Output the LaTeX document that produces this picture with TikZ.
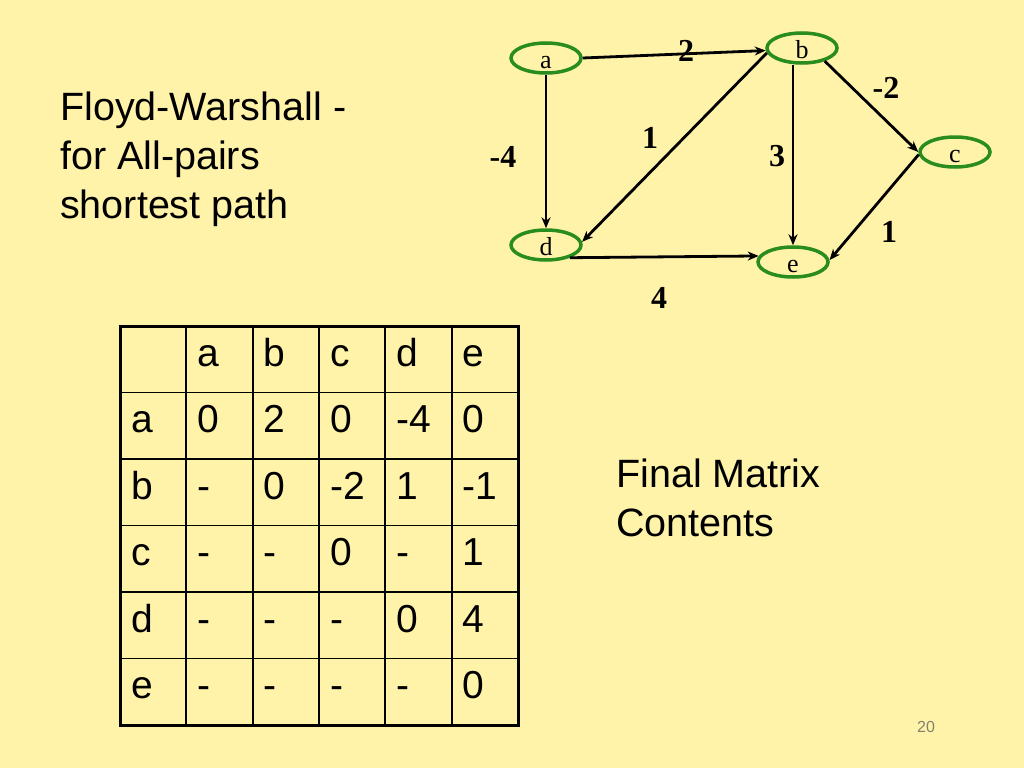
\documentclass[tikz,border=0pt]{standalone}
\usepackage{fontspec}
\setmainfont{Liberation Sans}
\newfontfamily\serifgraph{Liberation Serif}
\usetikzlibrary{shapes.geometric,arrows.meta}
\definecolor{bg}{RGB}{255,243,170}
\definecolor{ngreen}{RGB}{40,140,30}
\definecolor{pgnum}{RGB}{130,130,110}
\begin{document}
\begin{tikzpicture}[x=1pt,y=-1pt,
  vert/.style={ellipse, draw=ngreen, line width=3.5pt, minimum width=70pt, minimum height=30pt,
    inner sep=0pt, text height=21pt, text depth=0pt, font=\serifgraph\fontsize{26}{26}\selectfont},
  wlabel/.style={inner sep=0pt, font=\serifgraph\bfseries\fontsize{32}{32}\selectfont},
  edgearrow/.style={line width=2.8pt, -{Stealth[length=11pt,width=9pt]}},
  bigtext/.style={font=\fontsize{39.5}{49}\selectfont, anchor=north west, inner sep=0pt, align=left},
  cell/.style={font=\fontsize{39}{39}\selectfont, anchor=base west, inner sep=0pt},
]
\fill[bg] (0,0) rectangle (1024,768);
\useasboundingbox (0,0) rectangle (1024,768);

% title
\node[bigtext] (title) at (60,92) {Floyd-Warshall -\\for All-pairs\\shortest path};

% graph
\node[vert] (a) at (546,58) {a};
\node[vert] (b) at (802,48) {b};
\node[vert] (c) at (955,152) {c};
\node[vert] (d) at (546,245) {d};
\node[vert] (e) at (793,262) {e};

\draw[edgearrow] (a.east) -- (b.184);
\draw[edgearrow] (b.188) -- (d.5);
\draw[edgearrow] (a.south) -- (d.north);
\draw[edgearrow] (b.south -| e.north) -- (e.north);
\draw[edgearrow] (b.-30) -- (c.west);
\draw[edgearrow] (c.184) -- (e.3);
\draw[edgearrow] (d.-28) -- (e.170);

\node[wlabel] (wab) at (686,51) {2};
\node[wlabel] (wbc) at (886,88) {-2};
\node[wlabel] (wbd) at (650,138) {1};
\node[wlabel] (wad) at (503,157) {-4};
\node[wlabel] (wbe) at (777,156) {3};
\node[wlabel] (wce) at (889,232) {1};
\node[wlabel] (wde) at (659,298) {4};

% table
\foreach \i in {1,...,5} {
  \draw[line width=1.8pt] (120+66.33*\i,326) -- (120+66.33*\i,725);
  \draw[line width=1.8pt] (120,326+66.5*\i) -- (518,326+66.5*\i);
}
\draw[line width=3pt] (120,326) rectangle (518,725);
\foreach \row [count=\r from 0] in {{ ,a,b,c,d,e},{a,0,2,0,-4,0},{b,-,0,-2,1,-1},{c,-,-,0,-,1},{d,-,-,-,0,4},{e,-,-,-,-,0}} {
  \foreach \cellv [count=\c from 0] in \row {
    \node[cell] (t\r\c) at (131+66.33*\c, 366+66.5*\r) {\cellv};
  }
}

\node[bigtext] (final) at (616,459) {Final Matrix\\Contents};

\node[font=\fontsize{16}{16}\selectfont, text=pgnum, inner sep=0pt] (pg) at (926,727) {20};
\end{tikzpicture}
\end{document}
